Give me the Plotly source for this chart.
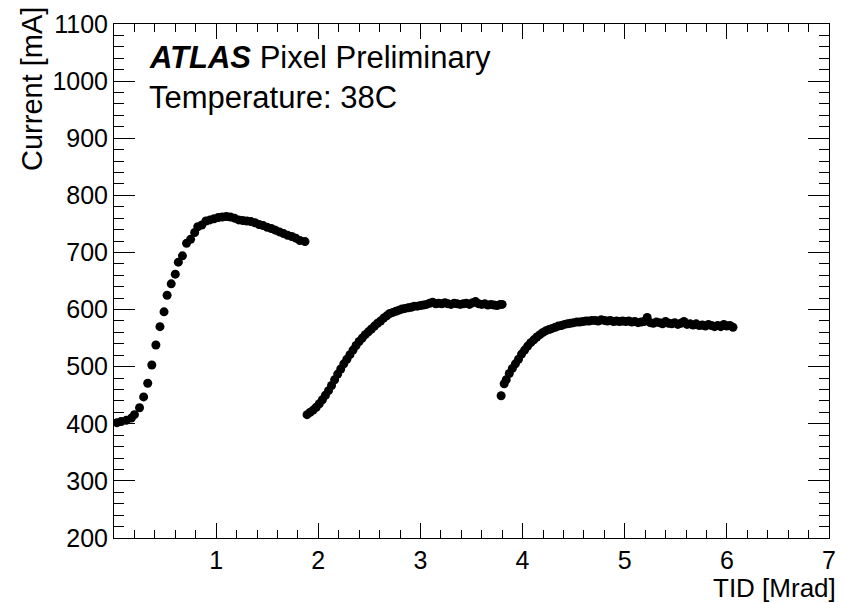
import plotly.graph_objects as go

# Segment 1
x1 = [0.03, 0.07, 0.12, 0.17, 0.20, 0.25, 0.29, 0.33, 0.37, 0.41, 0.45, 0.49, 0.52, 0.56,
      0.60, 0.63, 0.67, 0.71, 0.75, 0.79, 0.82, 0.86, 0.90, 0.94, 0.98, 1.02, 1.06, 1.10,
      1.14, 1.18, 1.22, 1.26, 1.30, 1.34, 1.38, 1.42, 1.46, 1.50, 1.54, 1.58, 1.62, 1.66,
      1.70, 1.74, 1.78, 1.82, 1.87]
y1 = [402, 404, 406, 410, 416, 428, 447, 471, 503, 538, 570, 596, 625, 645,
      662, 683, 694, 716, 723, 735, 745, 748, 755, 757, 759, 761, 762, 763,
      762, 760, 757, 756, 755, 754, 752, 749, 747, 744, 742, 739, 736, 733,
      730, 728, 725, 721, 719]

# Segment 2
x2 = [1.89, 1.92, 1.95, 1.98, 2.01, 2.04, 2.07, 2.10, 2.13, 2.16, 2.19, 2.22, 2.25, 2.28,
      2.31, 2.34, 2.37, 2.40, 2.43, 2.46, 2.49, 2.52, 2.55, 2.58, 2.61, 2.64, 2.67, 2.70,
      2.73, 2.76, 2.79, 2.82, 2.85, 2.88, 2.91, 2.94, 2.97, 3.00, 3.03, 3.06, 3.09, 3.12,
      3.15, 3.18, 3.21, 3.24, 3.27, 3.30, 3.33, 3.36, 3.39, 3.42, 3.45, 3.48, 3.51, 3.54,
      3.57, 3.60, 3.63, 3.66, 3.69, 3.72, 3.75, 3.78, 3.80]
y2 = [416, 420, 424, 429, 435, 442, 450, 458, 467, 477, 487, 496, 505, 513,
      521, 529, 537, 544, 550, 556, 561, 566, 571, 576, 580, 585, 589, 593,
      595, 597, 599, 601, 602, 603, 604, 606, 606, 607, 608, 609, 611, 613,
      610, 611, 610, 612, 610, 609, 611, 610, 609, 610, 611, 609, 612, 614,
      610, 609, 610, 608, 609, 608, 607, 609, 609]

# Segment 3
x3 = [3.79, 3.82, 3.84, 3.87, 3.90, 3.93, 3.96, 3.99, 4.02, 4.05, 4.08, 4.11, 4.14, 4.17,
      4.20, 4.23, 4.26, 4.29, 4.32, 4.35, 4.38, 4.41, 4.44, 4.47, 4.50, 4.53, 4.56, 4.59,
      4.62, 4.65, 4.68, 4.71, 4.74, 4.77, 4.80, 4.83, 4.86, 4.89, 4.92, 4.95, 4.98, 5.01,
      5.04, 5.07, 5.10, 5.13, 5.16, 5.19, 5.22, 5.25, 5.28, 5.31, 5.34, 5.37, 5.40, 5.43,
      5.46, 5.49, 5.52, 5.55, 5.58, 5.61, 5.64, 5.67, 5.70, 5.73, 5.76, 5.79, 5.82, 5.85,
      5.88, 5.91, 5.94, 5.97, 6.00, 6.03, 6.06]
y3 = [449, 470, 477, 488, 497, 505, 513, 522, 529, 536, 542, 547, 552, 556,
      560, 563, 565, 567, 569, 571, 572, 574, 575, 576, 577, 578, 578, 579,
      580, 580, 581, 581, 580, 582, 581, 580, 581, 579, 580, 579, 580, 579,
      580, 578, 579, 577, 578, 579, 586, 577, 576, 578, 577, 575, 579, 576,
      575, 577, 574, 576, 579, 574, 575, 573, 575, 572, 573, 571, 574, 572,
      570, 572, 570, 574, 571, 572, 569]

x_ticks = [1, 2, 3, 4, 5, 6, 7]
y_ticks = [200, 300, 400, 500, 600, 700, 800, 900, 1000, 1100]

FONT = "Liberation Sans, Arial, Helvetica, sans-serif"

fig = go.Figure()
for xs, ys in [(x1, y1), (x2, y2), (x3, y3)]:
    fig.add_trace(go.Scatter(x=xs, y=ys, mode="markers",
                             marker=dict(color="black", size=9, line=dict(width=0)),
                             showlegend=False))

axis_common = dict(showgrid=False, zeroline=False, showline=True, linecolor="black",
                   linewidth=1, mirror="allticks", ticks="inside", tickcolor="black",
                   tickwidth=1, tickfont=dict(family=FONT, size=25, color="black"))

fig.update_xaxes(range=[0, 7], tickvals=x_ticks, ticklen=15,
                 minor=dict(dtick=0.2, tick0=0, ticks="inside", ticklen=8,
                            tickcolor="black", tickwidth=1, showgrid=False),
                 **axis_common)
fig.update_yaxes(range=[200, 1100], tickvals=y_ticks, ticklen=21,
                 minor=dict(dtick=20, tick0=200, ticks="inside", ticklen=10,
                            tickcolor="black", tickwidth=1, showgrid=False),
                 **axis_common)

fig.add_annotation(text="<b><i>ATLAS</i></b> Pixel Preliminary", xref="paper", yref="paper",
                   x=(147 - 114) / 722, y=(538 - 53) / 519, xanchor="left", yanchor="middle",
                   showarrow=False, font=dict(family=FONT, size=31, color="black"))
fig.add_annotation(text="Temperature: 38C", xref="paper", yref="paper",
                   x=(147 - 114) / 722, y=(538 - 93) / 519, xanchor="left", yanchor="middle",
                   showarrow=False, font=dict(family=FONT, size=31, color="black"))
fig.add_annotation(text="TID [Mrad]", xref="paper", yref="paper",
                   x=(845 - 114) / 722, y=-(588 - 538) / 519,
                   xanchor="right", yanchor="middle",
                   showarrow=False, font=dict(family=FONT, size=26, color="black"))
fig.add_annotation(text="Current [mA]", xref="paper", yref="paper", textangle=-90,
                   x=(31 - 114) / 722, y=(538 - 0) / 519, xanchor="center", yanchor="top",
                   showarrow=False, font=dict(family=FONT, size=29, color="black"))

fig.update_layout(width=846, height=603, margin=dict(l=114, r=10, t=19, b=65),
                  paper_bgcolor="white", plot_bgcolor="white",
                  font=dict(family=FONT, color="black"))

fig.write_html("out.html")
